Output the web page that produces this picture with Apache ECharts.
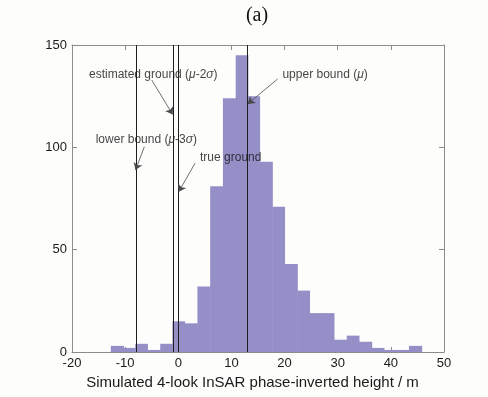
<!DOCTYPE html>
<html><head><meta charset="utf-8">
<script src="https://cdn.jsdelivr.net/npm/echarts@6/dist/echarts.min.js"></script>
<style>html,body{margin:0;padding:0;background:#fdfdfc}#c{width:488px;height:397px}</style>
</head><body><div id="c"></div>
<script>
// Histogram bin edges (m) and counts
const binEdges = [-12.7,-10.3,-8.1,-5.8,-3.4,-1.1,1.2,3.6,6.0,8.4,10.8,13.1,15.3,17.7,20.0,22.4,24.7,27.0,29.3,31.7,34.0,36.4,38.7,41.1,43.4,45.8];
const counts = [3,2,4,1,4,15,14,32,81,124,145,125,93,71,43,30,19,19,6,8,5,2,1,1,3];
// Vertical reference lines (m): lower bound, estimated ground, true ground, upper bound
const vLines = [-8, -1, 0, 13];
// Annotation texts, their anchor points (data coords) and arrow start/end (data coords)
const annoTexts = ['estimated ground ({i|μ}-2{i|σ})', 'upper bound ({i|μ})', 'lower bound ({i|μ}-3{i|σ})', 'true ground'];
const annoAnchors = [[-16.8, 135.7], [19.6, 135.7], [-15.54, 103.6], [4.09, 94.9]];
const arrowFrom = [[-5.0, 132.9], [18.7, 133.4], [-6.39, 100.3], [3.15, 92.2]];
const arrowTo = [[-1.05, 116.0], [13.05, 121.2], [-8.05, 88.9], [0.08, 78.3]];
const xTitle = 'Simulated 4-look InSAR phase-inverted height / m';
const panelTitle = '(a)';

const FONT = '"Liberation Sans", Arial, Helvetica, sans-serif';
const AX = '#8c8c8c';
const histData = counts.map((c, i) => [binEdges[i], binEdges[i + 1], c]);

const baseX = {type:'value', min:-20, max:50, interval:10, splitLine:{show:false},
  axisLine:{show:true, onZero:false, lineStyle:{color:AX, width:1}},
  axisTick:{show:true, inside:true, length:5, lineStyle:{color:AX}}};
const baseY = {type:'value', min:0, max:150, interval:50, splitLine:{show:false},
  axisLine:{show:true, onZero:false, lineStyle:{color:AX, width:1}},
  axisTick:{show:true, inside:true, length:5, lineStyle:{color:AX}}};

const chart = echarts.init(document.getElementById('c'), null, {renderer:'canvas'});
chart.setOption({
  backgroundColor:'#fdfdfc',
  animation:false,
  title:{text:panelTitle, left:252, top:1, textAlign:'center',
    textStyle:{fontFamily:'"Liberation Serif", "Times New Roman", serif', fontSize:20, fontWeight:'normal', color:'#111'}},
  grid:{left:72, right:44, top:45, bottom:45, containLabel:false},
  xAxis:[
    Object.assign({}, baseX, {position:'bottom',
      axisLabel:{color:'#1a1a1a', fontSize:13, fontFamily:FONT, margin:5},
      name:xTitle, nameLocation:'middle', nameGap:16,
      nameTextStyle:{color:'#1a1a1a', fontSize:15, fontFamily:FONT, padding:[0,11,0,0]}}),
    Object.assign({}, baseX, {position:'top', axisLabel:{show:false}})
  ],
  yAxis:[
    Object.assign({}, baseY, {position:'left',
      axisLabel:{color:'#1a1a1a', fontSize:13, fontFamily:FONT, margin:5}}),
    Object.assign({}, baseY, {position:'right', axisLabel:{show:false}})
  ],
  series:[
    {
      type:'custom', xAxisIndex:0, yAxisIndex:0,
      encode:{x:[0,1], y:2},
      data:histData,
      renderItem:function(params, api){
        const p0 = api.coord([api.value(0), api.value(2)]);
        const p1 = api.coord([api.value(1), 0]);
        return {type:'rect', shape:{x:p0[0], y:p0[1], width:p1[0]-p0[0]+0.5, height:p1[1]-p0[1]},
          style:{fill:'#958fc8'}};
      },
      markLine:{silent:true, symbol:'none', animation:false,
        lineStyle:{color:'#1e1e1e', width:1, type:'solid'}, label:{show:false},
        data:vLines.map(v => ({xAxis:v}))}
    },
    {
      type:'scatter', xAxisIndex:0, yAxisIndex:0, symbolSize:0, silent:true,
      data:annoAnchors.map((a, i) => ({value:a, name:annoTexts[i]})),
      label:{show:true, position:'right', distance:0, color:'#111', fontSize:12, fontFamily:FONT,
        formatter:p => p.name,
        rich:{i:{fontStyle:'italic', fontSize:12, fontFamily:FONT, color:'#111'}}},
      markLine:{silent:true, animation:false, symbol:['none','arrow'], symbolSize:7,
        lineStyle:{color:'#4a4a4a', width:0.8, type:'solid', opacity:1}, label:{show:false},
        data:arrowFrom.map((f, i) => [{coord:f}, {coord:arrowTo[i]}])}
    }
  ]
});
</script></body></html>
